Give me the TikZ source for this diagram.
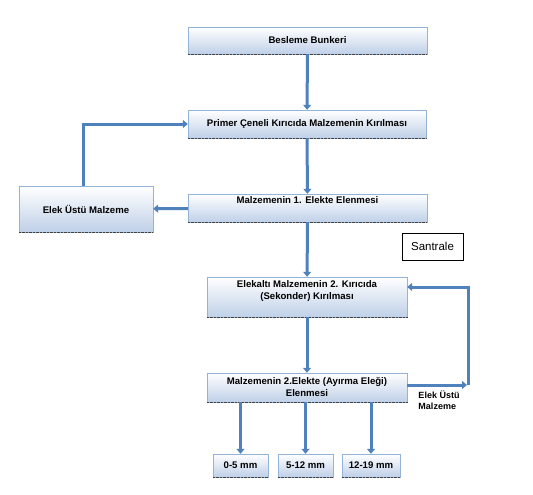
\documentclass[tikz,border=0pt]{standalone}
\usepackage{fontspec}
\setmainfont{Liberation Sans}
\usepackage{xcolor}
\definecolor{flowblue}{HTML}{4F81BD}
\definecolor{boxline}{HTML}{95B3D7}
\definecolor{boxfill}{HTML}{BFD0E8}
\usepackage{tikz}
\usetikzlibrary{calc,positioning,arrows.meta}

\tikzset{
  stage/.style={draw=boxline, top color=white, bottom color=boxfill, align=center,
    inner sep=1pt, font=\bfseries\fontsize{9.6}{12}\selectfont},
  flow/.style={draw=flowblue, line width=3pt, -{Triangle[width=8pt,length=5pt]}}
}

\begin{document}
\begin{tikzpicture}[x=1pt, y=-1pt]
  \useasboundingbox (0,0) rectangle (533,495);
  % Main stages
  \node[stage, minimum width=239pt, minimum height=27pt] (bunker) at (307.5,40.5) {Besleme Bunkeri};
  \node[stage, minimum width=238pt, minimum height=28pt] (primer) at (307,124) {Primer Çeneli Kırıcıda Malzemenin Kırılması};
  \node[stage, minimum width=239pt, minimum height=28pt] (elek1) at (307.5,208) {Malzemenin 1. Elekte Elenmesi\\[4pt]};
  \node[stage, minimum width=134pt, minimum height=46pt] (ustu1) at (86,209) {Elek Üstü Malzeme};
  \node[stage, minimum width=200pt, minimum height=40pt] (sekonder) at (307,297) {Elekaltı Malzemenin 2. Kırıcıda\\(Sekonder) Kırılması\\[2pt]};
  \node[stage, minimum width=200pt, minimum height=29pt] (elek2) at (307,387.5) {Malzemenin 2.Elekte (Ayırma Eleği)\\Elenmesi};
  % Products
  \node[stage, minimum width=55pt, minimum height=23pt] (p1) at (240.5,465.5) {0-5 mm};
  \node[stage, minimum width=55pt, minimum height=23pt] (p2) at (305.5,465.5) {5-12 mm};
  \node[stage, minimum width=58pt, minimum height=23pt] (p3) at (371,465.5) {12-19 mm};
  \node[draw, minimum width=61pt, minimum height=27pt, font=\fontsize{11.5}{13}\selectfont] (santrale) at (432.5,246.5) {Santrale};
  \node[align=left, font=\bfseries\fontsize{9}{11}\selectfont] (ustu2) at (439,400) {Elek Üstü\\Malzeme};

  % Dotted lower edges
  \foreach \n in {bunker,primer,elek1,ustu1,sekonder,elek2,p1,p2,p3}
    \draw[densely dotted, black!75] (\n.south west) -- (\n.south east);

  % Flow
  \draw[flow] (bunker) -- (primer);
  \draw[flow] (primer) -- (elek1);
  \draw[flow] (elek1) -- (ustu1);
  \draw[flow] ([xshift=-3pt]ustu1.north) |- (primer.west);
  \draw[flow] (elek1) -- (sekonder);
  \draw[flow] (sekonder) -- (elek2);
  \foreach \p in {p1,p2,p3}
    \draw[flow] (elek2.south -| \p.north) -- (\p.north);
  \coordinate (ret) at (467,385);
  \draw[flow] (elek2.east |- ret) -- (ret);
  \draw[flow] ([xshift=1.5pt]ret) |- ([yshift=10pt]sekonder.east);
\end{tikzpicture}
\end{document}
